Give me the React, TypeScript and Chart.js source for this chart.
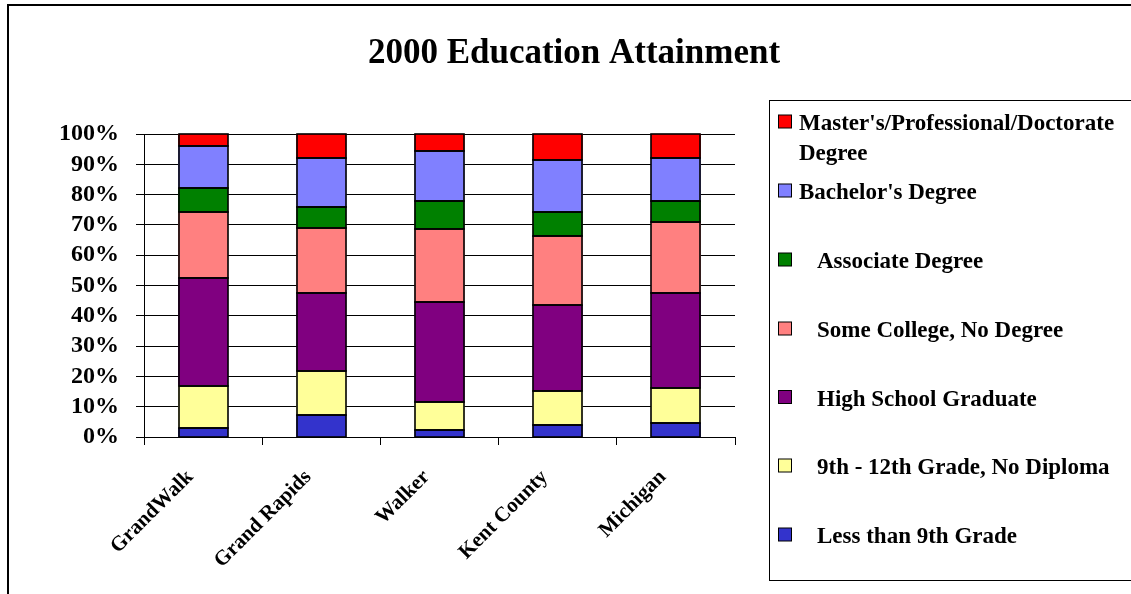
import React, { useEffect, useRef } from "react";
import { Chart, registerables } from "chart.js";

Chart.register(...registerables);

const categories = ["GrandWalk", "Grand Rapids", "Walker", "Kent County", "Michigan"];

const lessThan9th = [2.9, 7.1, 2.2, 4.0, 4.5];
const grade9to12 = [14.0, 14.8, 9.2, 11.1, 11.7];
const highSchool = [35.7, 25.7, 33.1, 28.3, 31.4];
const someCollege = [21.5, 21.5, 24.1, 22.8, 23.4];
const associate = [8.0, 6.9, 9.3, 8.0, 6.8];
const bachelor = [14.0, 16.0, 16.5, 17.2, 14.2];
const masters = [3.9, 8.0, 5.6, 8.6, 8.0];

const seriesNames = [
  ["Less than 9th Grade"],
  ["9th - 12th Grade, No Diploma"],
  ["High School Graduate"],
  ["Some College, No Degree"],
  ["Associate Degree"],
  ["Bachelor's Degree"],
  ["Master's/Professional/Doctorate", "Degree"],
];
const seriesColors = ["#3333CC", "#FFFF99", "#800080", "#FF8080", "#008000", "#8080FF", "#FF0000"];
const seriesValues = [lessThan9th, grade9to12, highSchool, someCollege, associate, bachelor, masters];

const yTicks = [0, 10, 20, 30, 40, 50, 60, 70, 80, 90, 100];
const titleText = "2000 Education Attainment";

const FONT = "'Liberation Serif', 'Times New Roman', serif";

const outlinePlugin = {
  id: "outline",
  afterDatasetsDraw(chart: any) {
    const ctx = chart.ctx;
    ctx.save();
    ctx.strokeStyle = "#000";
    ctx.lineWidth = 1.6;
    chart.data.datasets.forEach((_d: any, i: number) => {
      const meta = chart.getDatasetMeta(i);
      meta.data.forEach((bar: any) => {
        const { x, y, base, width } = bar.getProps(["x", "y", "base", "width"], true);
        const l = Math.round(x - width / 2);
        const r = Math.round(x + width / 2);
        const t = Math.round(Math.min(y, base));
        const b = Math.round(Math.max(y, base));
        ctx.strokeRect(l, t, r - l, b - t);
      });
    });
    ctx.restore();
  },
};

const decorPlugin = {
  id: "decor",
  afterDraw(chart: any) {
    const ctx = chart.ctx;
    ctx.save();
    ctx.strokeStyle = "#000";
    ctx.lineWidth = 2;
    ctx.strokeRect(8, 5, 1140, 600);
    ctx.fillStyle = "#000";
    ctx.font = `bold 35px ${FONT}`;
    ctx.textAlign = "center";
    ctx.textBaseline = "alphabetic";
    ctx.fillText(titleText, 574, 63);
    ctx.lineWidth = 1;
    ctx.strokeRect(769.5, 100.5, 400, 480);
    const ds = chart.data.datasets;
    const itemY = [121.5, 190.5, 259.5, 328.5, 397, 465.5, 534.5];
    ctx.font = `bold 23px ${FONT}`;
    ctx.textAlign = "left";
    for (let k = 0; k < ds.length; k++) {
      const i = ds.length - 1 - k;
      const cy = itemY[k];
      ctx.fillStyle = ds[i].backgroundColor;
      ctx.fillRect(778.5, cy - 6.5, 13, 13);
      ctx.strokeStyle = "#000";
      ctx.lineWidth = 1;
      ctx.strokeRect(778.5, cy - 6.5, 13, 13);
      ctx.fillStyle = "#000";
      const lines = seriesNames[i];
      const tx = k < 2 ? 799 : 817;
      lines.forEach((ln: string, j: number) => {
        ctx.fillText(ln, tx, cy + 8.5 + j * 30);
      });
    }
    ctx.restore();
  },
};

export default function App() {
  const ref = useRef<HTMLCanvasElement>(null);
  useEffect(() => {
    if (!ref.current) return;
    Chart.defaults.font.family = FONT;
    const chart = new Chart(ref.current, {
      type: "bar",
      data: {
        labels: categories,
        datasets: seriesValues.map((vals, i) => ({
          label: seriesNames[i].join(" "),
          data: vals,
          backgroundColor: seriesColors[i],
          borderWidth: 0,
          inflateAmount: 0.5,
          barPercentage: 0.415,
          categoryPercentage: 1,
        })),
      },
      options: {
        animation: false,
        responsive: false,
        devicePixelRatio: 1,
        layout: { padding: { left: 0, top: 134, right: 396, bottom: 0 } },
        plugins: {
          legend: { display: false },
          title: { display: false },
          tooltip: { enabled: false },
        },
        scales: {
          x: {
            stacked: true,
            afterFit: (s: any) => { s.height = 157; },
            grid: { drawOnChartArea: false, drawTicks: true, tickLength: 8, color: "#000", offset: true },
            border: { display: true, color: "#000", width: 1 },
            ticks: {
              color: "#000",
              font: { size: 21, weight: "bold", family: FONT },
              minRotation: 45,
              maxRotation: 45,
              autoSkip: false,
              padding: 20,
              labelOffset: -13,
            },
          },
          y: {
            stacked: true,
            min: 0,
            max: 100,
            afterFit: (s: any) => { s.width = 144; },
            afterBuildTicks: (s: any) => { s.ticks = yTicks.map((v) => ({ value: v })); },
            grid: { color: "#000", lineWidth: 1, tickLength: 8, drawTicks: true },
            border: { display: true, color: "#000", width: 1 },
            ticks: {
              color: "#000",
              font: { size: 24, weight: "bold", family: FONT },
              padding: 17,
              autoSkip: false,
              stepSize: 10,
              callback: (v: any) => `${v}%`,
            },
          },
        },
      },
      plugins: [outlinePlugin, decorPlugin],
    });
    return () => chart.destroy();
  }, []);
  return (
    <div style={{ position: "absolute", left: 0, top: 0, width: 1131, height: 594, background: "#fff" }}>
      <canvas ref={ref} width={1131} height={594} style={{ width: 1131, height: 594, display: "block" }} />
    </div>
  );
}
